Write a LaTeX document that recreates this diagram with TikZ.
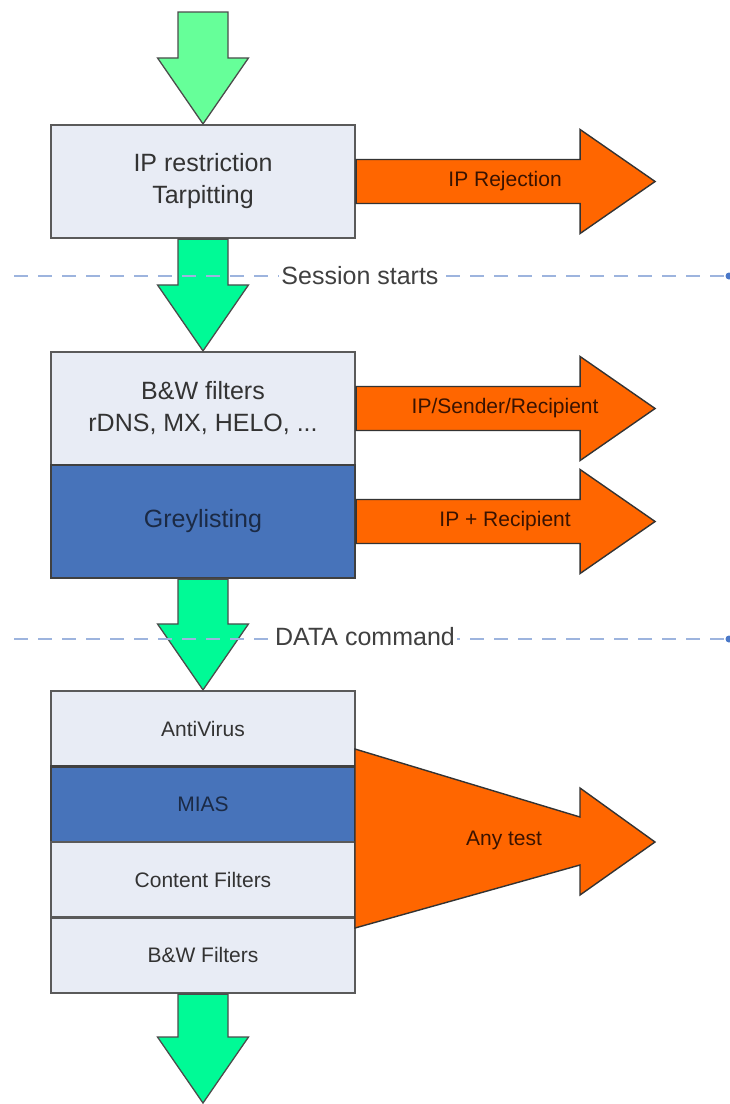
\documentclass[tikz,border=0pt]{standalone}
\usepackage{fontspec}
\setmainfont{Liberation Sans}
\usetikzlibrary{calc}

\definecolor{boxlight}{HTML}{E8ECF5}
\definecolor{boxdark}{HTML}{4773BA}
\definecolor{edgegrey}{HTML}{5A5A5A}
\definecolor{rejectorange}{HTML}{FF6600}
\definecolor{passgreen}{HTML}{00FA96}
\definecolor{entrygreen}{HTML}{66FF99}
\definecolor{sepblue}{HTML}{9DB4DE}
\definecolor{dotblue}{HTML}{4A78C8}
\definecolor{navytext}{HTML}{1B2A45}
\definecolor{browntext}{HTML}{3A1300}

% green pass-through arrow: from (#1) down to (#2), filled with #3
\newcommand\passarrow[3]{%
  \draw[garrow, fill=#3] let \p1=(#1), \p2=(#2) in
    (\x1-25pt,\y1) -- (\x1+25pt,\y1) -- (\x1+25pt,\y2+66pt) -- (\x1+45.5pt,\y2+66pt)
    -- (\x2,\y2) -- (\x1-45.5pt,\y2+66pt) -- (\x1-25pt,\y2+66pt) -- cycle;}

% orange rejection arrow leaving (#1) to the right, named #2, labelled #3
\newcommand\rejectarrow[3]{%
  \draw[oarrow] let \p1=(#1) in
    (\x1,\y1+22pt) -- (\x1+224pt,\y1+22pt) -- (\x1+224pt,\y1+52pt) -- (\x1+299pt,\y1)
    -- (\x1+224pt,\y1-52pt) -- (\x1+224pt,\y1-22pt) -- (\x1,\y1-22pt) -- cycle
    node[olabel] (#2) at (\x1+149pt,\y1) {#3};}

\begin{document}
\begin{tikzpicture}[x=1pt, y=-1pt,
  stage/.style={draw=edgegrey, line width=2.2pt, fill=boxlight, minimum width=304pt,
    inner sep=0pt, align=center, text=black!80, font=\fontsize{25}{32}\selectfont},
  darkstage/.style={fill=boxdark, draw=black!75, text=navytext},
  smallstage/.style={stage, minimum height=75.5pt, font=\fontsize{21}{26}\selectfont},
  garrow/.style={draw=black!70, line width=1.3pt, line join=miter},
  oarrow/.style={draw=black!80, line width=1.4pt, fill=rejectorange, line join=miter},
  olabel/.style={text=browntext, font=\fontsize{21}{26}\selectfont, inner sep=0pt},
  sepline/.style={draw=sepblue, line width=2.4pt, dash pattern=on 14pt off 10pt},
  seplabel/.style={fill=white, text=black!75, inner sep=2pt, font=\fontsize{25}{30}\selectfont}
]
\useasboundingbox (0,0) rectangle (730,1104);

% entry and exit points of the mail flow
\coordinate (in) at (203,12);
\coordinate (out) at (203,1103);

% stage 1: connection level
\node[stage, minimum height=113pt] (ipr) at (203,181.5) {IP restriction\\Tarpitting};

% stage 2: envelope level
\node[stage, minimum height=113pt] (bw) at (203,408.5) {B\&W filters\\rDNS, MX, HELO, ...};
\node[stage, darkstage, minimum height=113pt] (grey) at (203,521.5) {Greylisting};

% stage 3: content level
\node[smallstage] (av) at (203,728.75) {AntiVirus};
\node[smallstage, darkstage] (mias) at (203,804.25) {MIAS};
\node[smallstage] (cf) at (203,879.75) {Content Filters};
\node[smallstage] (bwf) at (203,955.25) {B\&W Filters};

% accepted mail flows down
\passarrow{in}{ipr.north}{entrygreen}
\passarrow{ipr.south}{bw.north}{passgreen}
\passarrow{grey.south}{av.north}{passgreen}
\passarrow{bwf.south}{out}{passgreen}

% rejected mail leaves to the right
\rejectarrow{ipr.east}{rej1}{IP Rejection}
\rejectarrow{bw.east}{rej2}{IP/Sender/Recipient}
\rejectarrow{grey.east}{rej3}{IP + Recipient}

% funnel arrow collecting the content tests
\coordinate (fun) at (355,840);
\draw[oarrow] let \p1=(fun) in
  (\x1,\y1+91pt) -- (\x1+225pt,\y1+23pt) -- (\x1+225pt,\y1+52pt) -- (\x1+300pt,\y1-2pt)
  -- (\x1+225pt,\y1-55pt) -- (\x1+225pt,\y1-25pt) -- (\x1,\y1-88pt) -- cycle
  node[olabel] (rej4) at (\x1+149pt,\y1) {Any test};

% protocol milestones
\draw[sepline] (14,276) -- (726,276);
\fill[dotblue] (729,276) circle (3.5pt);
\node[seplabel] (sess) at (360,276) {Session starts};

\draw[sepline] (14,639) -- (726,639);
\fill[dotblue] (729,639) circle (3.5pt);
\node[seplabel] (data) at (365,637) {DATA command};
\end{tikzpicture}
\end{document}
